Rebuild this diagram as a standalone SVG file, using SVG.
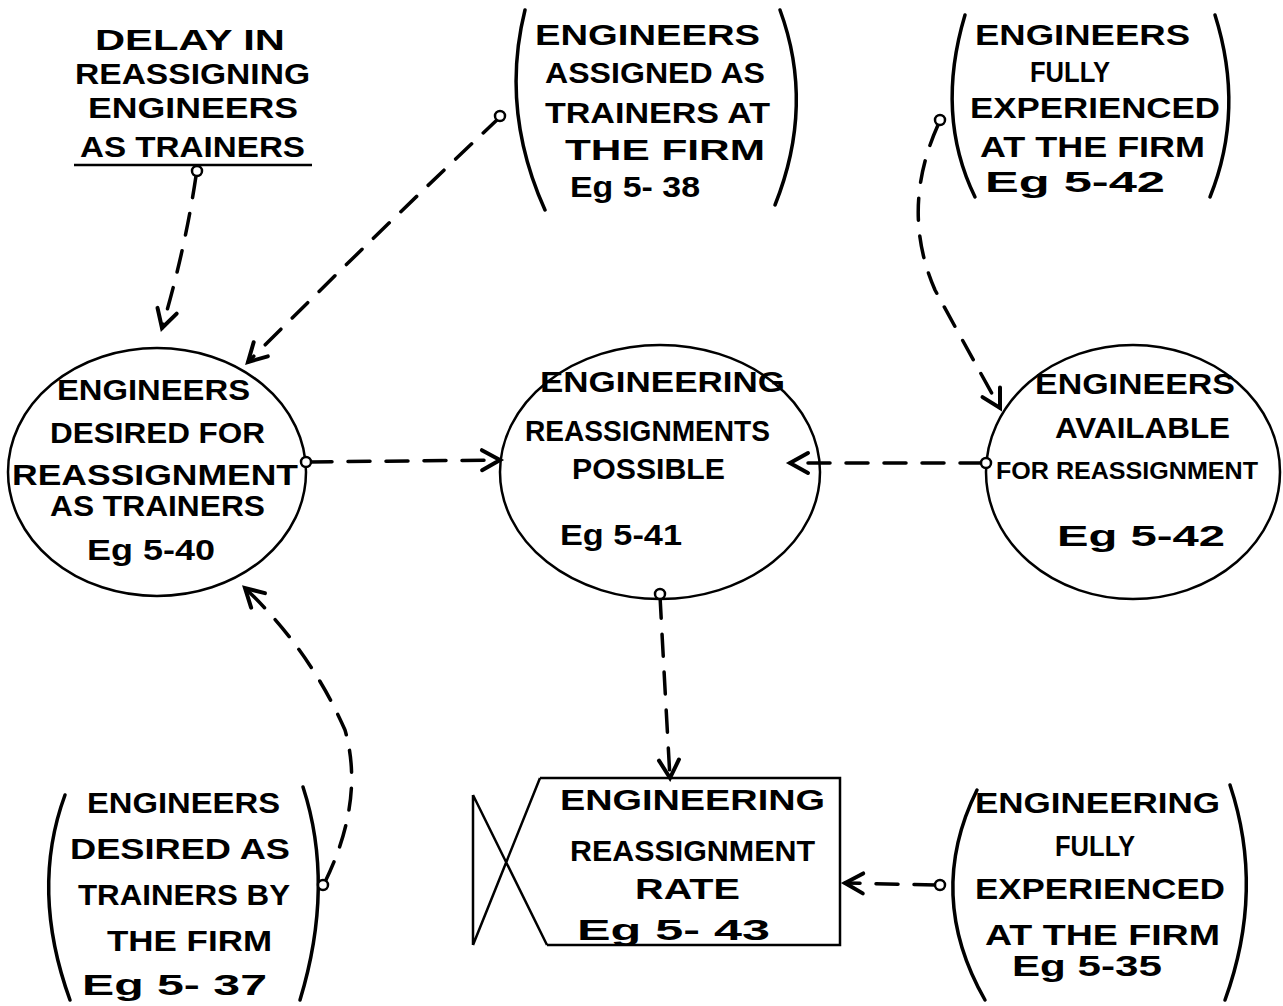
<svg xmlns="http://www.w3.org/2000/svg" width="1283" height="1006" viewBox="0 0 1283 1006">
<style>
.t{font-family:"Liberation Sans",Arial,sans-serif;font-size:29px;font-weight:bold;fill:#000}
.s{fill:none;stroke:#000;stroke-width:2.5}
.p{fill:none;stroke:#000;stroke-width:3.5;stroke-linecap:round}
.c{fill:none;stroke:#000;stroke-width:3.5;stroke-dasharray:22 16;stroke-linecap:round}
.o{fill:#fff;stroke:#000;stroke-width:2.5}
</style>
<defs>
<marker id="ah" viewBox="0 0 12 12" refX="11" refY="6" markerWidth="12" markerHeight="12" markerUnits="userSpaceOnUse" orient="auto" overflow="visible">
<path d="M-7,-4 L11,6 L-7,16" fill="none" stroke="#000" stroke-width="4" stroke-linejoin="miter" stroke-linecap="round"/>
</marker>
</defs>
<rect width="1283" height="1006" fill="#fff"/>

<g id="delay">
<text class="t" x="95" y="50" textLength="190" lengthAdjust="spacingAndGlyphs">DELAY IN</text>
<text class="t" x="75" y="84" textLength="235" lengthAdjust="spacingAndGlyphs">REASSIGNING</text>
<text class="t" x="88" y="118" textLength="210" lengthAdjust="spacingAndGlyphs">ENGINEERS</text>
<text class="t" x="80" y="157" textLength="225" lengthAdjust="spacingAndGlyphs">AS TRAINERS</text>
<line class="s" x1="74" y1="165" x2="312" y2="165"/>
</g>

<g id="assigned">
<path class="p" d="M525,10 Q500,110 545,210"/>
<path class="p" d="M780,10 Q815,105 775,205"/>
<text class="t" x="535" y="45" textLength="225" lengthAdjust="spacingAndGlyphs">ENGINEERS</text>
<text class="t" x="545" y="83" textLength="220" lengthAdjust="spacingAndGlyphs">ASSIGNED AS</text>
<text class="t" x="545" y="123" textLength="225" lengthAdjust="spacingAndGlyphs">TRAINERS AT</text>
<text class="t" x="565" y="160" textLength="200" lengthAdjust="spacingAndGlyphs">THE FIRM</text>
<text class="t" x="570" y="197" textLength="130" lengthAdjust="spacingAndGlyphs">Eg 5- 38</text>
</g>

<g id="experienced-top">
<path class="p" d="M965,15 Q935,115 975,197"/>
<path class="p" d="M1215,15 Q1245,110 1210,197"/>
<text class="t" x="975" y="45" textLength="215" lengthAdjust="spacingAndGlyphs">ENGINEERS</text>
<text class="t" x="1030" y="82" textLength="80" lengthAdjust="spacingAndGlyphs">FULLY</text>
<text class="t" x="970" y="118" textLength="250" lengthAdjust="spacingAndGlyphs">EXPERIENCED</text>
<text class="t" x="980" y="157" textLength="225" lengthAdjust="spacingAndGlyphs">AT THE FIRM</text>
<text class="t" x="985" y="192" textLength="180" lengthAdjust="spacingAndGlyphs">Eg 5-42</text>
</g>

<g id="desired-reassign">
<ellipse class="s" cx="157" cy="472" rx="149" ry="124"/>
<text class="t" x="57" y="400" textLength="193" lengthAdjust="spacingAndGlyphs">ENGINEERS</text>
<text class="t" x="50" y="443" textLength="215" lengthAdjust="spacingAndGlyphs">DESIRED FOR</text>
<text class="t" x="12" y="485" textLength="286" lengthAdjust="spacingAndGlyphs">REASSIGNMENT</text>
<text class="t" x="50" y="516" textLength="215" lengthAdjust="spacingAndGlyphs">AS TRAINERS</text>
<text class="t" x="87" y="560" textLength="128" lengthAdjust="spacingAndGlyphs">Eg 5-40</text>
</g>

<g id="possible">
<ellipse class="s" cx="660" cy="472" rx="160" ry="127"/>
<text class="t" x="540" y="392" textLength="245" lengthAdjust="spacingAndGlyphs">ENGINEERING</text>
<text class="t" x="525" y="441" textLength="245" lengthAdjust="spacingAndGlyphs">REASSIGNMENTS</text>
<text class="t" x="572" y="479" textLength="153" lengthAdjust="spacingAndGlyphs">POSSIBLE</text>
<text class="t" x="560" y="545" textLength="122" lengthAdjust="spacingAndGlyphs">Eg 5-41</text>
</g>

<g id="available">
<ellipse class="s" cx="1133" cy="472" rx="147" ry="127"/>
<text class="t" x="1035" y="394" textLength="200" lengthAdjust="spacingAndGlyphs">ENGINEERS</text>
<text class="t" x="1055" y="438" textLength="175" lengthAdjust="spacingAndGlyphs">AVAILABLE</text>
<text class="t" x="996" y="479" style="font-size:24px" textLength="262" lengthAdjust="spacingAndGlyphs">FOR REASSIGNMENT</text>
<text class="t" x="1057" y="546" textLength="168" lengthAdjust="spacingAndGlyphs">Eg 5-42</text>
</g>

<g id="rate">
<path class="s" d="M540,778 L840,778 L840,945 L547,945"/>
<path class="s" d="M473,795 L473,945 M473,795 L547,945 M540,778 L473,945"/>
<text class="t" x="560" y="810" textLength="265" lengthAdjust="spacingAndGlyphs">ENGINEERING</text>
<text class="t" x="570" y="861" textLength="245" lengthAdjust="spacingAndGlyphs">REASSIGNMENT</text>
<text class="t" x="635" y="899" textLength="105" lengthAdjust="spacingAndGlyphs">RATE</text>
<text class="t" x="577" y="940" textLength="193" lengthAdjust="spacingAndGlyphs">Eg 5- 43</text>
</g>

<g id="desired-firm">
<path class="p" d="M65,795 Q30,890 70,1000"/>
<path class="p" d="M303,787 Q335,885 300,1000"/>
<text class="t" x="87" y="813" textLength="193" lengthAdjust="spacingAndGlyphs">ENGINEERS</text>
<text class="t" x="70" y="859" textLength="220" lengthAdjust="spacingAndGlyphs">DESIRED AS</text>
<text class="t" x="78" y="905" textLength="212" lengthAdjust="spacingAndGlyphs">TRAINERS BY</text>
<text class="t" x="107" y="951" textLength="165" lengthAdjust="spacingAndGlyphs">THE FIRM</text>
<text class="t" x="82" y="995" textLength="185" lengthAdjust="spacingAndGlyphs">Eg 5- 37</text>
</g>

<g id="experienced-bottom">
<path class="p" d="M977,790 Q925,895 985,1000"/>
<path class="p" d="M1230,785 Q1265,890 1225,1000"/>
<text class="t" x="975" y="813" textLength="245" lengthAdjust="spacingAndGlyphs">ENGINEERING</text>
<text class="t" x="1055" y="856" textLength="80" lengthAdjust="spacingAndGlyphs">FULLY</text>
<text class="t" x="975" y="899" textLength="250" lengthAdjust="spacingAndGlyphs">EXPERIENCED</text>
<text class="t" x="985" y="945" textLength="235" lengthAdjust="spacingAndGlyphs">AT THE FIRM</text>
<text class="t" x="1012" y="976" textLength="150" lengthAdjust="spacingAndGlyphs">Eg 5-35</text>
</g>

<g id="connectors">
<path class="c" d="M196,176 Q185,250 162,328" marker-end="url(#ah)"/>
<path class="c" d="M499,118 Q380,230 248,362" marker-end="url(#ah)"/>
<path class="c" d="M938,125 Q900,210 935,290 Q965,345 1000,408" marker-end="url(#ah)"/>
<path class="c" d="M310,462 L500,460" marker-end="url(#ah)"/>
<path class="c" d="M982,463 L790,463" marker-end="url(#ah)"/>
<path class="c" d="M660,596 Q665,690 670,778" marker-end="url(#ah)"/>
<path class="c" d="M325,882 Q365,800 345,730 Q310,650 245,588" marker-end="url(#ah)"/>
<path class="c" d="M936,885 L845,883" marker-end="url(#ah)"/>
<circle class="o" cx="197" cy="171" r="5"/>
<circle class="o" cx="500" cy="116" r="5"/>
<circle class="o" cx="940" cy="120" r="5"/>
<circle class="o" cx="306" cy="462" r="5"/>
<circle class="o" cx="986" cy="463" r="5"/>
<circle class="o" cx="660" cy="594" r="5"/>
<circle class="o" cx="323" cy="885" r="5"/>
<circle class="o" cx="940" cy="885" r="5"/>
</g>
</svg>
